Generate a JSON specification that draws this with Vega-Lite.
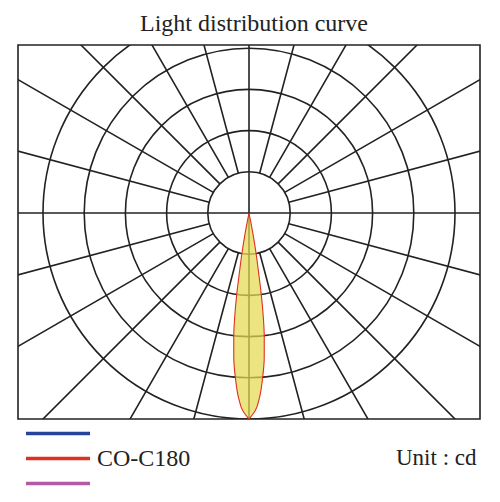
{
  "$schema": "https://vega.github.io/schema/vega-lite/v6.json",
  "autosize": {"type": "none"},
  "width": 462,
  "height": 374,
  "padding": {"left": 18, "top": 45, "right": 20, "bottom": 83},
  "background": "white",
  "config": {
    "view": {"stroke": "#222222", "strokeWidth": 1.6},
    "font": "Liberation Serif"
  },
  "title": {
    "text": "Light distribution curve",
    "font": "Liberation Serif",
    "fontSize": 24,
    "fontWeight": "normal",
    "color": "#222222",
    "anchor": "middle",
    "dx": 5,
    "offset": 8
  },
  "datasets": {
    "circles": [{"r": 1}, {"r": 2}, {"r": 3}, {"r": 4}, {"r": 5}],
    "spokes": [
      {"angle": 15}, {"angle": 30}, {"angle": 45}, {"angle": 60}, {"angle": 75},
      {"angle": 105}, {"angle": 120}, {"angle": 135}, {"angle": 150}, {"angle": 165},
      {"angle": 195}, {"angle": 210}, {"angle": 225}, {"angle": 240}, {"angle": 255},
      {"angle": 285}, {"angle": 300}, {"angle": 315}, {"angle": 330}, {"angle": 345}
    ],
    "lobe": [
      {"series": "CO-C180", "y": 0, "xl": 0, "xr": 0},
      {"series": "CO-C180", "y": -0.25, "xl": -0.05, "xr": 0.05},
      {"series": "CO-C180", "y": -0.5, "xl": -0.095, "xr": 0.095},
      {"series": "CO-C180", "y": -1.0, "xl": -0.175, "xr": 0.175},
      {"series": "CO-C180", "y": -1.5, "xl": -0.24, "xr": 0.24},
      {"series": "CO-C180", "y": -2.0, "xl": -0.3, "xr": 0.3},
      {"series": "CO-C180", "y": -2.5, "xl": -0.345, "xr": 0.345},
      {"series": "CO-C180", "y": -3.0, "xl": -0.37, "xr": 0.37},
      {"series": "CO-C180", "y": -3.5, "xl": -0.37, "xr": 0.37},
      {"series": "CO-C180", "y": -4.0, "xl": -0.33, "xr": 0.33},
      {"series": "CO-C180", "y": -4.5, "xl": -0.25, "xr": 0.25},
      {"series": "CO-C180", "y": -4.8, "xl": -0.15, "xr": 0.15},
      {"series": "CO-C180", "y": -5.0, "xl": 0, "xr": 0}
    ]
  },
  "encoding": {
    "x": {
      "type": "quantitative",
      "scale": {"domain": [-5.607, 5.607], "nice": false, "zero": false},
      "axis": {
        "domain": false, "ticks": false, "labels": false, "grid": false,
        "title": "Unit : cd",
        "titleFont": "Liberation Serif",
        "titleFontSize": 23,
        "titleFontWeight": "normal",
        "titleColor": "#222222",
        "titleAlign": "right",
        "titleBaseline": "middle",
        "titleX": 458,
        "titleY": 38
      }
    },
    "y": {
      "type": "quantitative",
      "scale": {"domain": [-5, 4.078], "nice": false, "zero": false},
      "axis": null
    }
  },
  "layer": [
    {
      "data": {"name": "circles"},
      "mark": {"type": "arc", "filled": false, "stroke": "#222222", "strokeWidth": 1.6, "theta": 0, "theta2": 6.2832, "clip": true},
      "encoding": {
        "x": {"datum": 0, "type": "quantitative"},
        "y": {"datum": 0, "type": "quantitative"},
        "radius": {"field": "r", "type": "quantitative", "stack": null, "scale": {"type": "linear", "domain": [0, 5], "range": [0, 206], "zero": true}}
      }
    },
    {
      "data": {"name": "spokes"},
      "mark": {"type": "arc", "filled": false, "stroke": "#222222", "strokeWidth": 1.6, "clip": true},
      "encoding": {
        "x": {"datum": 0, "type": "quantitative"},
        "y": {"datum": 0, "type": "quantitative"},
        "theta": {"field": "angle", "type": "quantitative", "stack": null, "scale": {"type": "linear", "domain": [0, 360], "range": [0, 6.283185]}},
        "theta2": {"field": "angle"},
        "radius": {"datum": 1},
        "radius2": {"datum": 9}
      }
    },
    {
      "data": {"values": [{"v": 0}]},
      "mark": {"type": "rule", "stroke": "#222222", "strokeWidth": 1.6},
      "encoding": {"x": {"field": "v", "type": "quantitative"}}
    },
    {
      "data": {"values": [{"v": 0}]},
      "mark": {"type": "rule", "stroke": "#222222", "strokeWidth": 1.6},
      "encoding": {"y": {"field": "v", "type": "quantitative"}}
    },
    {
      "data": {"name": "lobe"},
      "mark": {"type": "area", "orient": "horizontal", "interpolate": "monotone", "fill": "#e4da50", "fillOpacity": 0.72, "strokeWidth": 1.1, "clip": true},
      "encoding": {
        "y": {"field": "y", "type": "quantitative"},
        "x": {"field": "xl", "type": "quantitative"},
        "x2": {"field": "xr"},
        "stroke": {
          "field": "series",
          "type": "nominal",
          "scale": {"domain": ["C90-C270", "CO-C180", "C45-C225"], "range": ["#27449a", "#e0301f", "#b25aa6"]},
          "legend": {
            "orient": "none",
            "legendX": 27.5,
            "legendY": 376,
            "direction": "vertical",
            "title": null,
            "padding": 0,
            "rowPadding": 0,
            "symbolType": "M-3.048,0H3.048",
            "symbolSize": 441,
            "symbolStrokeWidth": 3.5,
            "symbolOpacity": 1,
            "symbolFillColor": "transparent",
            "labelFont": "Liberation Serif",
            "labelFontSize": 24,
            "labelColor": "#222222",
            "labelOffset": 26.5,
            "labelLimit": 200,
            "labelExpr": "datum.label == 'CO-C180' ? datum.label : ''"
          }
        }
      }
    }
  ]
}
